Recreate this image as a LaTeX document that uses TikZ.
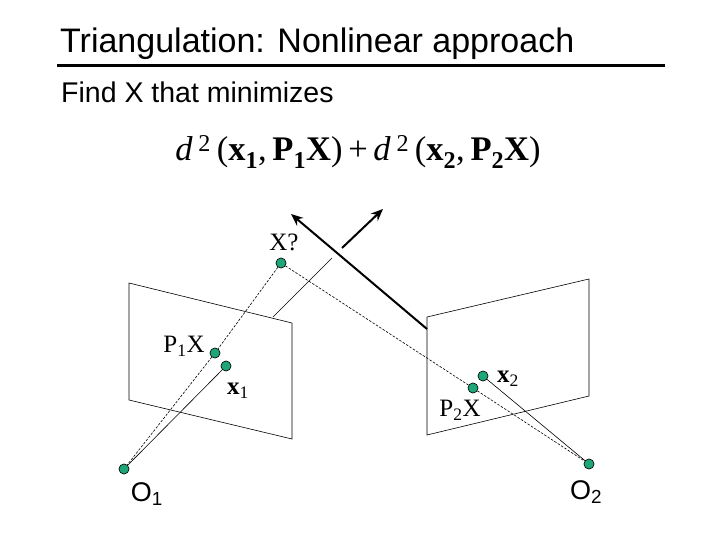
\documentclass[tikz,border=0pt]{standalone}
\usepackage{fontspec}
\setmainfont{Liberation Serif}
\newfontfamily\arial{Liberation Sans}
\usetikzlibrary{arrows.meta}
\definecolor{dotc}{RGB}{30,165,120}
\begin{document}
\begin{tikzpicture}[x=1pt,y=-1pt,
  pt/.style={circle,draw=black,line width=0.5pt,fill=dotc,minimum size=10pt,inner sep=0pt},
  thin/.style={line width=0.6pt},
  dsh/.style={line width=0.6pt,dash pattern=on 2.5pt off 1.5pt},
  thick arrow/.style={line width=2pt,-{Stealth[length=12pt,width=10pt]}},
  lbl/.style={inner sep=0pt,font=\fontsize{25}{25}\selectfont}]
\useasboundingbox (0,0) rectangle (720,540);
\node[anchor=base west,inner sep=0pt,font=\arial\fontsize{34}{34}\selectfont] (t) at (60,53) {Triangulation: Nonlinear approach};
\draw[line width=3pt] (57,66) coordinate (l1) -- (665,66) coordinate (l2);
\node[anchor=base west,inner sep=0pt,font=\arial\fontsize{28.5}{28.5}\selectfont] (f) at (61,103) {Find X that minimizes};
\node[inner sep=0pt,font=\fontsize{34.5}{34.5}\selectfont] (eq) at (358,152) {\textit{d}\,\textsuperscript{2}\,(\textbf{x\textsubscript{1}},\,\textbf{P\textsubscript{1}X})\,+\,\textit{d}\,\textsuperscript{2}\,(\textbf{x\textsubscript{2}},\,\textbf{P\textsubscript{2}X})};
% planes
\draw[thin] (129,283) -- (292,323) coordinate (lpc) -- (292,439) -- (129,400) -- cycle;
\draw[thin] (427,317) -- (589,279) -- (589,396) -- (427,435) -- cycle;
% points
\node[pt] (X) at (281,263) {};
\node[pt] (P1) at (215,353) {};
\node[pt] (x1) at (226,366) {};
\node[pt] (O1) at (124,469) {};
\node[pt] (x2) at (483,376) {};
\node[pt] (P2) at (473,388) {};
\node[pt] (O2) at (589,464) {};
\coordinate (r1a) at (273,317);
\coordinate (r1b) at (332,258);
\coordinate (r1c) at (342,248);
\coordinate (r1d) at (383,209);
\coordinate (r2a) at (427,329);
\coordinate (r2b) at (291,214);
% rays
\draw[dsh] (X) -- (P1) -- (O1);
\draw[dsh] (X) -- (P2) -- (O2);
\draw[thin] (O1) -- (x1);
\draw[thin] (x2) -- (O2);
\draw[thin] (r1a) -- (r1b);
\draw[thick arrow] (r1c) -- (r1d);
\draw[thick arrow] (r2a) -- (r2b);
\foreach \n in {X,P1,x1,O1,x2,P2,O2} \node[pt] at (\n) {};
% labels
\node[lbl] (lX) at (284,242) {X?};
\node[lbl] (lP1) at (184,346) {P\textsubscript{1}X};
\node[lbl] (lx1) at (238,391) {\textbf{x}\textsubscript{1}};
\node[lbl] (lx2) at (508,379) {\textbf{x}\textsubscript{2}};
\node[lbl] (lP2) at (460,410) {P\textsubscript{2}X};
\node[lbl,font=\arial\fontsize{27}{27}\selectfont] (lO1) at (147,494) {O\textsubscript{1}};
\node[lbl,font=\arial\fontsize{27}{27}\selectfont] (lO2) at (586,492) {O\textsubscript{2}};
\end{tikzpicture}
\end{document}
